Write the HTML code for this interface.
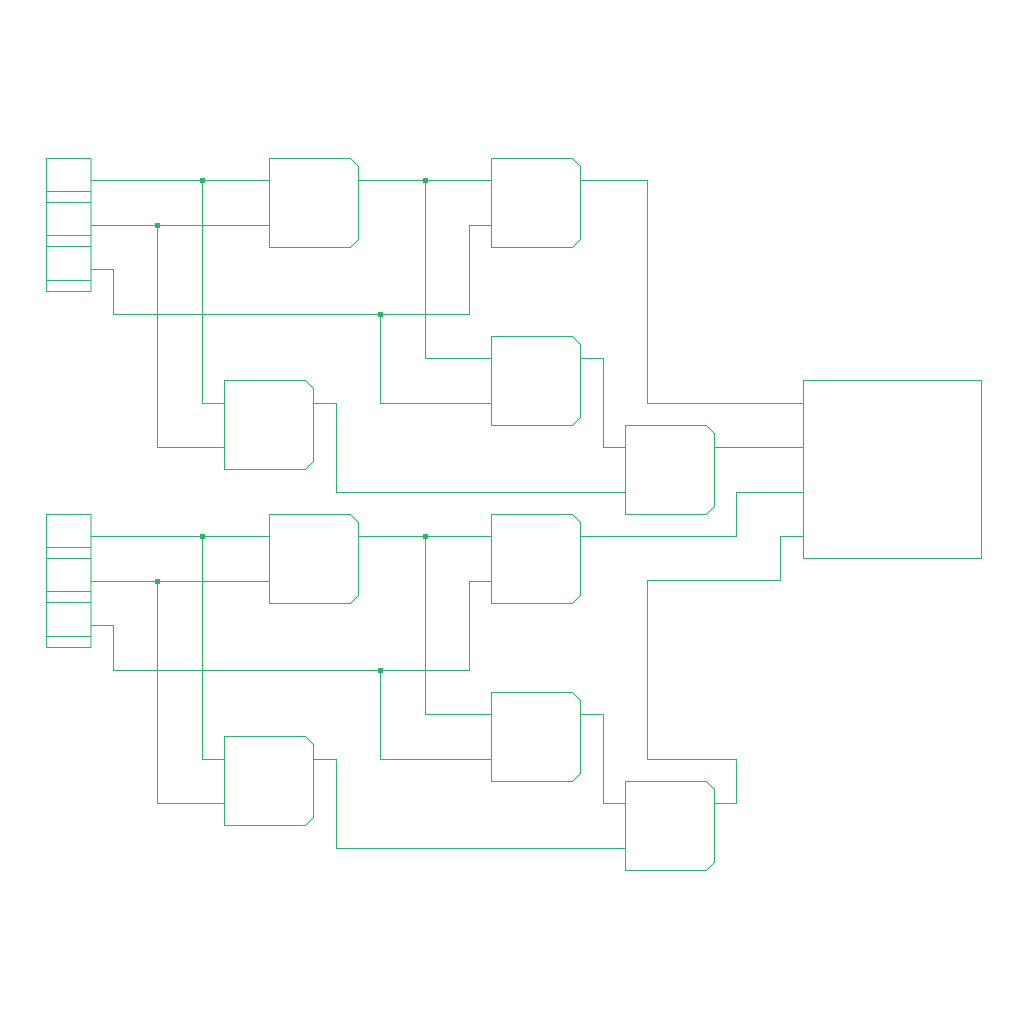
<!DOCTYPE html>
<html><head><style>html,body{margin:0;padding:0;background:#fff}svg{display:block}</style></head>
<body>
<svg width="1024" height="1024" viewBox="0 0 1024 1024" xmlns="http://www.w3.org/2000/svg">
<defs>
<g id="gate"><path d="M0 0 H81 L89 8 V81 L81 89 H0 Z"/></g>
<g id="half">
  <rect x="46.5" y="158.5" width="44.5" height="133"/>
  <path d="M46.5 191.5H91M46.5 202.5H91M46.5 235.5H91M46.5 246.5H91M46.5 280.5H91"/>
  <use href="#gate" x="269.5" y="158.5"/>
  <use href="#gate" x="491.5" y="158.5"/>
  <use href="#gate" x="491.5" y="336.5"/>
  <use href="#gate" x="224.5" y="380.5"/>
  <use href="#gate" x="625.5" y="425.5"/>
  <path d="M91 180.5H269.5M202.5 180.5V403.5H224.5M91 225.5H269.5M157.5 225.5V447.5H224.5"/>
  <path d="M91 269.5H113.5V314.5H469.5V225.5H491.5M380.5 314.5V403.5H491.5"/>
  <path d="M358.5 180.5H491.5M425.5 180.5V358.5H491.5"/>
  <path d="M580.5 358.5H603.5V447.5H625.5M313.5 403.5H336.5V492.5H625.5"/>
</g>
</defs>
<g fill="none" stroke="#2fb36a" stroke-width="1">
  <use href="#half"/>
  <use href="#half" y="356"/>
  <rect x="803.5" y="380.5" width="178" height="178"/>
  <path d="M580.5 180.5H647.5V403.5H803.5M714.5 447.5H803.5"/>
  <path d="M580.5 536.5H736.5V492.5H803.5"/>
  <path d="M714.5 803.5H736.5V759.5H647.5V580.5H780.5V536.5H803.5"/>
</g>
<g fill="#2fb36a">
  <rect x="200" y="178" width="5" height="5"/><rect x="155" y="223" width="5" height="5"/>
  <rect x="378" y="312" width="5" height="5"/><rect x="423" y="178" width="5" height="5"/>
  <rect x="200" y="534" width="5" height="5"/><rect x="155" y="579" width="5" height="5"/>
  <rect x="378" y="668" width="5" height="5"/><rect x="423" y="534" width="5" height="5"/>
</g>
</svg>
</body></html>
